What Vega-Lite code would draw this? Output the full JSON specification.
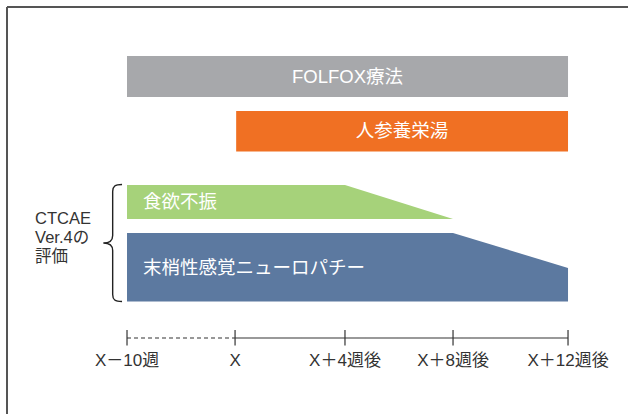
{
  "$schema": "https://vega.github.io/schema/vega-lite/v6.json",
  "width": 628,
  "height": 414,
  "padding": 0,
  "autosize": {"type": "none"},
  "background": "white",
  "config": {"view": {"stroke": null}},
  "datasets": {
    "bars": [
      {"label": "FOLFOX療法", "x": 0, "x2": 4, "y": 13.53, "y2": 23.43, "ty": 18.6, "color": "#a7a8ab"},
      {"label": "人参養栄湯", "x": 0.99, "x2": 4, "y": 26.81, "y2": 36.59, "ty": 31.76, "color": "#f07023"}
    ],
    "anorexia": [
      {"x": 0, "top": 44.69, "bottom": 52.9},
      {"x": 1.977, "top": 44.69, "bottom": 52.9},
      {"x": 2.957, "top": 52.9, "bottom": 52.9}
    ],
    "neuropathy": [
      {"x": 0, "top": 56.28, "bottom": 72.83},
      {"x": 2.957, "top": 56.28, "bottom": 72.83},
      {"x": 4, "top": 64.73, "bottom": 72.83}
    ],
    "aeLabels": [
      {"label": "食欲不振", "x": 0.145, "y": 48.79},
      {"label": "末梢性感覚ニューロパチー", "x": 0.145, "y": 64.73}
    ],
    "timeline": [
      {"x": 0, "x2": 0.98, "style": "dashed", "y": 81.64},
      {"x": 0.98, "x2": 4, "style": "solid", "y": 81.64}
    ],
    "ticks": [
      {"x": 0, "label": "X－10週", "y": 79.71, "y2": 83.45, "ly": 87.2},
      {"x": 0.98, "label": "X", "y": 79.71, "y2": 83.45, "ly": 87.2},
      {"x": 1.977, "label": "X＋4週後", "y": 79.71, "y2": 83.45, "ly": 87.2},
      {"x": 2.957, "label": "X＋8週後", "y": 79.71, "y2": 83.45, "ly": 87.2},
      {"x": 4, "label": "X＋12週後", "y": 79.71, "y2": 83.45, "ly": 87.2}
    ],
    "ctcae": [
      {"label": "CTCAE", "x": -0.834, "y": 52.9},
      {"label": "Ver.4の", "x": -0.834, "y": 57.49},
      {"label": "評価", "x": -0.834, "y": 62.08}
    ],
    "brace": [{"x": -0.13, "y": 58.7}],
    "frame": [
      {"x": -1.0885, "x2": 4.544, "y": 1.69, "y2": 1.69},
      {"x": -1.0885, "x2": -1.0885, "y": 1.69, "y2": 100}
    ]
  },
  "layer": [
    {
      "data": {"name": "frame"},
      "mark": {"type": "rule", "stroke": "#555555", "strokeWidth": 2},
      "encoding": {
        "x": {"field": "x", "type": "quantitative", "scale": {"domain": [-1.152, 4.544], "nice": false, "zero": false}, "axis": null},
        "x2": {"field": "x2"},
        "y": {"field": "y", "type": "quantitative", "scale": {"domain": [0, 100], "reverse": true, "nice": false, "zero": false}, "axis": null},
        "y2": {"field": "y2"}
      }
    },
    {
      "data": {"name": "bars"},
      "mark": {"type": "rect"},
      "encoding": {
        "x": {"field": "x", "type": "quantitative"},
        "x2": {"field": "x2"},
        "y": {"field": "y", "type": "quantitative"},
        "y2": {"field": "y2"},
        "color": {"field": "color", "type": "nominal", "scale": null}
      }
    },
    {
      "data": {"name": "bars"},
      "transform": [{"calculate": "(datum.x + datum.x2) / 2", "as": "cx"}],
      "mark": {"type": "text", "color": "white", "fontSize": 18.5, "font": "Liberation Sans, Noto Sans CJK JP", "align": "center", "baseline": "middle"},
      "encoding": {
        "x": {"field": "cx", "type": "quantitative"},
        "y": {"field": "ty", "type": "quantitative"},
        "text": {"field": "label"}
      }
    },
    {
      "data": {"name": "anorexia"},
      "mark": {"type": "area", "orient": "vertical", "color": "#a6d27a", "interpolate": "linear"},
      "encoding": {
        "x": {"field": "x", "type": "quantitative"},
        "y": {"field": "top", "type": "quantitative"},
        "y2": {"field": "bottom"}
      }
    },
    {
      "data": {"name": "neuropathy"},
      "mark": {"type": "area", "orient": "vertical", "color": "#5c79a0", "interpolate": "linear"},
      "encoding": {
        "x": {"field": "x", "type": "quantitative"},
        "y": {"field": "top", "type": "quantitative"},
        "y2": {"field": "bottom"}
      }
    },
    {
      "data": {"name": "aeLabels"},
      "mark": {"type": "text", "color": "white", "fontSize": 18.5, "font": "Liberation Sans, Noto Sans CJK JP", "align": "left", "baseline": "middle"},
      "encoding": {
        "x": {"field": "x", "type": "quantitative"},
        "y": {"field": "y", "type": "quantitative"},
        "text": {"field": "label"}
      }
    },
    {
      "data": {"name": "timeline"},
      "mark": {"type": "rule", "stroke": "#333333", "strokeWidth": 1.2},
      "encoding": {
        "x": {"field": "x", "type": "quantitative"},
        "x2": {"field": "x2"},
        "y": {"field": "y", "type": "quantitative"},
        "strokeDash": {"field": "style", "type": "nominal", "scale": {"domain": ["dashed", "solid"], "range": [[4, 3], [1, 0]]}, "legend": null}
      }
    },
    {
      "data": {"name": "ticks"},
      "mark": {"type": "rule", "stroke": "#333333", "strokeWidth": 1.2},
      "encoding": {
        "x": {"field": "x", "type": "quantitative"},
        "y": {"field": "y", "type": "quantitative"},
        "y2": {"field": "y2"}
      }
    },
    {
      "data": {"name": "ticks"},
      "mark": {"type": "text", "color": "#333333", "fontSize": 17, "font": "Liberation Sans, Noto Sans CJK JP", "align": "center", "baseline": "middle"},
      "encoding": {
        "x": {"field": "x", "type": "quantitative"},
        "y": {"field": "ly", "type": "quantitative"},
        "text": {"field": "label"}
      }
    },
    {
      "data": {"name": "ctcae"},
      "mark": {"type": "text", "color": "#333333", "fontSize": 16.5, "font": "Liberation Sans, Noto Sans CJK JP", "align": "left", "baseline": "middle"},
      "encoding": {
        "x": {"field": "x", "type": "quantitative"},
        "y": {"field": "y", "type": "quantitative"},
        "text": {"field": "label"}
      }
    },
    {
      "data": {"name": "brace"},
      "mark": {
        "type": "point",
        "filled": false,
        "opacity": 1,
        "stroke": "#222222",
        "strokeWidth": 1.4,
        "size": 13689,
        "shape": "M0.16,-1 C0.04,-1 0,-0.97 0,-0.88 L0,-0.13 C0,-0.04 -0.05,0 -0.16,0 C-0.05,0 0,0.04 0,0.13 L0,0.88 C0,0.97 0.04,1 0.16,1"
      },
      "encoding": {
        "x": {"field": "x", "type": "quantitative"},
        "y": {"field": "y", "type": "quantitative"}
      }
    }
  ]
}
